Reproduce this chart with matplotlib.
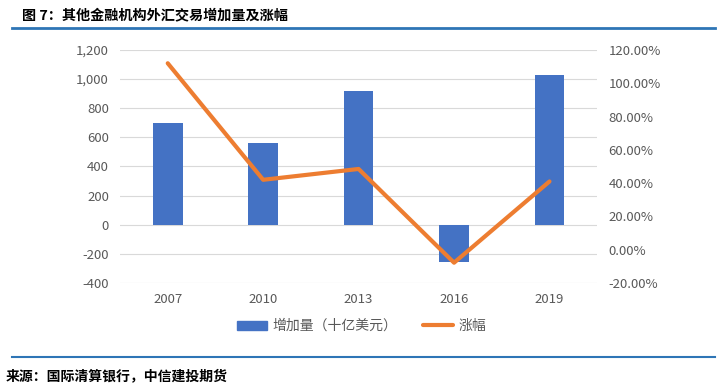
import matplotlib
matplotlib.use("Agg")
import matplotlib.pyplot as plt
from matplotlib.ticker import FuncFormatter
from matplotlib.lines import Line2D

plt.rcParams['font.family'] = ['Noto Sans CJK SC', 'DejaVu Sans']

years = ['2007', '2010', '2013', '2016', '2019']
increase = [700, 560, 915, -255, 1030]          # 十亿美元
growth = [1.12, 0.42, 0.485, -0.078, 0.41]       # 涨幅

title = '图 7：其他金融机构外汇交易增加量及涨幅'
source = '来源：国际清算银行，中信建投期货'
bar_label = '增加量（十亿美元）'
line_label = '涨幅'

fig = plt.figure(figsize=(7.23, 3.87), dpi=100)
ax = fig.add_axes([0.166, 0.2687, 0.660, 0.6023])
x = list(range(len(years)))
ax.bar(x, increase, width=0.31, color='#4472C4', zorder=3, label=bar_label)
ax.set_xlim(-0.5, 4.5)
ax.set_ylim(-400, 1200)
ax.set_yticks(range(-400, 1201, 200))
ax.yaxis.set_major_formatter(FuncFormatter(lambda v, p: f'{int(v):,}'))
ax.set_xticks(x)
ax.set_xticklabels(years)
ax.grid(axis='y', color='#D9D9D9', linewidth=0.8, zorder=0)
for s in ax.spines.values():
    s.set_visible(False)
ax.tick_params(length=0, colors='#595959', labelsize=9.5, pad=8)
ax.tick_params(axis='x', pad=7)

ax2 = ax.twinx()
ax2.plot(x, growth, color='#ED7D31', linewidth=3, zorder=4, solid_capstyle='round')
ax2.set_ylim(-0.2, 1.2)
ax2.set_yticks([-0.2, 0, 0.2, 0.4, 0.6, 0.8, 1.0, 1.2])
ax2.yaxis.set_major_formatter(FuncFormatter(lambda v, p: f'{v*100:.2f}%'))
for s in ax2.spines.values():
    s.set_visible(False)
ax2.tick_params(length=0, colors='#595959', labelsize=9.5, pad=8)

handles = [plt.Rectangle((0, 0), 1, 1, color='#4472C4'),
           Line2D([0], [0], color='#ED7D31', linewidth=3, solid_capstyle='round')]
fig.legend(handles, [bar_label, line_label], loc='center', bbox_to_anchor=(0.5, 1 - 326/387),
           ncol=2, frameon=False, fontsize=10, labelcolor='#595959', handlelength=2.2,
           handletextpad=0.4, columnspacing=1.8, handleheight=0.6)

fig.text(22/723, 1 - 15/387, title, fontsize=10.2, fontweight='bold', va='center', ha='left', color='#000000')
fig.add_artist(Line2D([12/723, 715/723], [1 - 28/387, 1 - 28/387], color='#2E75B6', linewidth=2))
fig.add_artist(Line2D([12/723, 715/723], [1 - 357/387, 1 - 357/387], color='#2E75B6', linewidth=1.5))
fig.text(6/723, 1 - 376/387, source, fontsize=10, fontweight='bold', style='italic', va='center', ha='left')

fig.savefig('out.png', dpi=100)
